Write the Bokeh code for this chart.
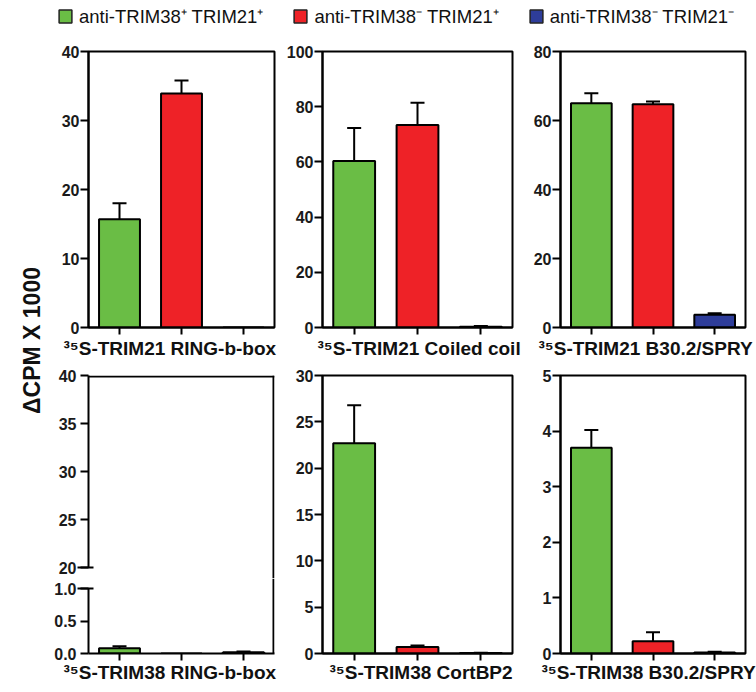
import numpy as np
from bokeh.plotting import figure
from bokeh.models import (ColumnDataSource, Whisker, TeeHead, Span, Label, Legend,
                          LegendItem, FixedTicker, Range1d, NumeralTickFormatter, Title)
from bokeh.layouts import row, column
from bokeh.embed import file_html
from bokeh.resources import INLINE

# ---------------- data ----------------
series = ["anti-TRIM38\u207A TRIM21\u207A", "anti-TRIM38\u207B TRIM21\u207A", "anti-TRIM38\u207B TRIM21\u207B"]
colors = ["#6ABD45", "#EE2227", "#2E3D9A"]

titles = ["\u00B3\u2075S-TRIM21 RING-b-box", "\u00B3\u2075S-TRIM21 Coiled coil", "\u00B3\u2075S-TRIM21 B30.2/SPRY",
          "\u00B3\u2075S-TRIM38 RING-b-box", "\u00B3\u2075S-TRIM38 CortBP2", "\u00B3\u2075S-TRIM38 B30.2/SPRY"]
y_title = "\u0394CPM X 1000"

trim21_ring_mean = [15.7, 33.9, 0.0]
trim21_ring_err = [2.3, 1.9, 0.0]
trim21_cc_mean = [60.3, 73.4, 0.3]
trim21_cc_err = [12.0, 8.0, 0.2]
trim21_spry_mean = [65.0, 64.7, 3.7]
trim21_spry_err = [2.9, 0.8, 0.4]
trim38_ring_mean = [0.08, 0.0, 0.02]
trim38_ring_err = [0.03, 0.0, 0.01]
trim38_cort_mean = [22.7, 0.7, 0.05]
trim38_cort_err = [4.1, 0.15, 0.03]
trim38_spry_mean = [3.7, 0.22, 0.02]
trim38_spry_err = [0.32, 0.16, 0.01]

ticks_trim21_ring = [0, 10, 20, 30, 40]
ticks_trim21_cc = [0, 20, 40, 60, 80, 100]
ticks_trim21_spry = [0, 20, 40, 60, 80]
ticks_trim38_ring_upper = [20, 25, 30, 35, 40]
ticks_trim38_ring_lower = [0.0, 0.5, 1.0]
ticks_trim38_cort = [0, 5, 10, 15, 20, 25, 30]
ticks_trim38_spry = [0, 1, 2, 3, 4, 5]

FONT = "Liberation Sans"
XPOS = np.arange(1, len(series) + 1)
X_END = len(series) + 0.5


def style_y(p, ticks, bounds=None, fmt=None, break_tick=None):
    ax = p.yaxis[0]
    ax.ticker = FixedTicker(ticks=ticks,
                            minor_ticks=[break_tick] if break_tick is not None else [])
    ax.axis_line_width = 2
    ax.axis_line_color = "black"
    ax.major_tick_line_width = 2
    ax.major_tick_line_color = "black"
    ax.major_tick_out = 8
    ax.major_tick_in = 0
    if break_tick is not None:
        # longer tick marking the axis break
        ax.minor_tick_line_color = "black"
        ax.minor_tick_line_width = 2
        ax.minor_tick_out = 11
        ax.minor_tick_in = 5
    else:
        ax.minor_tick_line_color = None
    ax.major_label_text_font = FONT
    ax.major_label_text_font_size = "16px"
    ax.major_label_text_font_style = "bold"
    ax.major_label_text_color = "#1a1a1a"
    ax.major_label_standoff = 1
    if bounds is not None:
        ax.bounds = bounds
    if fmt is not None:
        ax.formatter = NumeralTickFormatter(format=fmt)


def style_x(p):
    ax = p.xaxis[0]
    ax.ticker = FixedTicker(ticks=[int(v) for v in XPOS])
    ax.major_label_overrides = {int(v): "" for v in XPOS}
    ax.major_label_text_font_size = "0px"
    ax.major_label_standoff = 0
    ax.axis_line_width = 2
    ax.axis_line_color = "black"
    ax.major_tick_line_width = 2
    ax.major_tick_out = 7
    ax.major_tick_in = 0
    ax.minor_tick_line_color = None


def add_xtitle(p, text, offset, standoff):
    p.add_layout(Title(text=text, align="left", offset=offset, standoff=standoff,
                       vertical_align="middle", text_font=FONT, text_font_size="19px",
                       text_font_style="bold", text_color="#111111"), "below")


def add_bars(p, mean, err):
    src = ColumnDataSource(dict(x=XPOS, mean=mean, color=colors, name=series))
    p.vbar(x="x", top="mean", bottom=0, width=0.66, fill_color="color",
           line_color="black", line_width=2, source=src)
    keep = [i for i, e in enumerate(err) if e > 0]
    esrc = ColumnDataSource(dict(x=[int(XPOS[i]) for i in keep],
                                 lower=[mean[i] for i in keep],
                                 upper=[mean[i] + err[i] for i in keep]))
    p.add_layout(Whisker(source=esrc, base="x", lower="lower", upper="upper",
                         dimension="height", line_width=2, line_color="black",
                         lower_head=None,
                         upper_head=TeeHead(size=14, line_width=2, line_color="black"),
                         level="annotation"))


def base_fig(width, height, ml, mr, mt, mb, y0, y1, xaxis=True, outline=True):
    p = figure(width=width, height=height, x_range=Range1d(0.5, X_END),
               y_range=Range1d(y0, y1), output_backend="svg", toolbar_location=None,
               min_border_left=ml, min_border_right=mr, min_border_top=mt,
               min_border_bottom=mb, x_axis_location="below" if xaxis else None)
    p.grid.visible = False
    p.outline_line_color = "black" if outline else None
    p.outline_line_width = 2
    if xaxis:
        style_x(p)
    return p


# geometry (page has no margin)
C1 = dict(width=233, ml=38, mr=9)     # frame 88-274
C2 = dict(width=244, ml=37, mr=15)    # frame 320-512
C3 = dict(width=229, ml=33, mr=11)    # frame 560-745
R1 = dict(height=322, mt=11, mb=35)   # frame 51-327
R2 = dict(height=328, mt=13, mb=37)   # frame 375-653
LEG_H = 40
YL_W = 50

# ---- top row ----
p1 = base_fig(C1["width"], R1["height"], C1["ml"], C1["mr"], R1["mt"], R1["mb"], 0, 40)
add_bars(p1, trim21_ring_mean, trim21_ring_err)
style_y(p1, ticks_trim21_ring)
add_xtitle(p1, titles[0], -25, 4)

p2 = base_fig(C2["width"], R1["height"], C2["ml"], C2["mr"], R1["mt"], R1["mb"], 0, 100)
add_bars(p2, trim21_cc_mean, trim21_cc_err)
style_y(p2, ticks_trim21_cc)
add_xtitle(p2, titles[1], -5, 4)

p3 = base_fig(C3["width"], R1["height"], C3["ml"], C3["mr"], R1["mt"], R1["mb"], 0, 80)
add_bars(p3, trim21_spry_mean, trim21_spry_err)
style_y(p3, ticks_trim21_spry)
add_xtitle(p3, titles[2], -22, 4)

# ---- bottom-left broken axis: upper (20-40) and lower (0-1) parts ----
U_H, U_FRAME = 216, 203            # upper part canvas / frame height (375-578)
L_H, L_FRAME, L_MB = 112, 75, 37   # lower part canvas / frame / bottom border
UPPER_PX_PER_UNIT = 192 / 20.0
LOWER_PX_PER_UNIT = 65 / 1.0
X_PX_PER_UNIT = (C1["width"] - C1["ml"] - C1["mr"]) / len(series)
u_start = ticks_trim38_ring_upper[-1] - U_FRAME / UPPER_PX_PER_UNIT
pU = base_fig(C1["width"], U_H, C1["ml"], C1["mr"], R2["mt"], 0, u_start,
              ticks_trim38_ring_upper[-1], xaxis=False, outline=False)
style_y(pU, ticks_trim38_ring_upper,
        bounds=(ticks_trim38_ring_upper[0], ticks_trim38_ring_upper[-1]),
        break_tick=ticks_trim38_ring_upper[0])
pU.add_layout(Span(location=ticks_trim38_ring_upper[-1] - 1.0 / UPPER_PX_PER_UNIT,
                   dimension="width", line_color="black", line_width=2))
pU.add_layout(Span(location=X_END - 1.0 / X_PX_PER_UNIT, dimension="height",
                   line_color="black", line_width=2))

pL = base_fig(C1["width"], L_H, C1["ml"], C1["mr"], 0, L_MB, 0,
              L_FRAME / LOWER_PX_PER_UNIT, outline=False)
add_bars(pL, trim38_ring_mean, trim38_ring_err)
style_y(pL, ticks_trim38_ring_lower, bounds=(0, 1), fmt="0.0",
        break_tick=ticks_trim38_ring_lower[-1])
pL.add_layout(Span(location=X_END - 1.0 / X_PX_PER_UNIT, dimension="height",
                   line_color="black", line_width=2))
add_xtitle(pL, titles[3], -25, 0)

p5 = base_fig(C2["width"], R2["height"], C2["ml"], C2["mr"], R2["mt"], R2["mb"], 0, 30)
add_bars(p5, trim38_cort_mean, trim38_cort_err)
style_y(p5, ticks_trim38_cort)
add_xtitle(p5, titles[4], 7, 0)

p6 = base_fig(C3["width"], R2["height"], C3["ml"], C3["mr"], R2["mt"], R2["mb"], 0, 5)
add_bars(p6, trim38_spry_mean, trim38_spry_err)
style_y(p6, ticks_trim38_spry)
add_xtitle(p6, titles[5], -19, 0)

# ---- shared y title ----
YL_H = R1["height"] + R2["height"]
ylab = figure(width=YL_W, height=YL_H, output_backend="svg", toolbar_location=None,
              min_border=0, x_axis_location=None, y_axis_location=None,
              x_range=Range1d(0, 1), y_range=Range1d(0, 1))
ylab.outline_line_color = None
ylab.grid.visible = False
ylab.add_layout(Label(x=31, y=YL_H - 300, x_units="screen", y_units="screen",
                      text=y_title, angle=np.pi / 2, text_align="center",
                      text_baseline="middle", text_font=FONT, text_font_size="23px",
                      text_font_style="bold", text_color="#111111"))

# ---- legend strip ----
leg = figure(width=C1["width"] + C2["width"] + C3["width"] + YL_W, height=LEG_H,
             output_backend="svg", toolbar_location=None,
             min_border=0, x_axis_location=None, y_axis_location=None,
             x_range=Range1d(0, 1), y_range=Range1d(0, 1))
leg.outline_line_color = None
leg.grid.visible = False
items = []
for i, (s, c) in enumerate(zip(series, colors)):
    r = leg.vbar(x=[int(XPOS[i])], top=[trim21_spry_mean[i]], width=0.5,
                 fill_color=c, line_color="#222222", line_width=1.5, visible=False)
    items.append(LegendItem(label=s, renderers=[r]))
legend = Legend(items=items, orientation="horizontal", location=(57, 12),
                glyph_width=16, glyph_height=16, label_standoff=6, spacing=29,
                padding=0, margin=0, border_line_color=None,
                background_fill_alpha=0, label_height=20,
                label_text_font=FONT, label_text_font_size="18.5px",
                label_text_color="#111111")
leg.add_layout(legend, "center")

grid = row(ylab,
           column(p1, pU, pL),
           column(p2, p5),
           column(p3, p6))
layout = column(leg, grid)

open("out.html", "w").write(file_html(layout, INLINE))
